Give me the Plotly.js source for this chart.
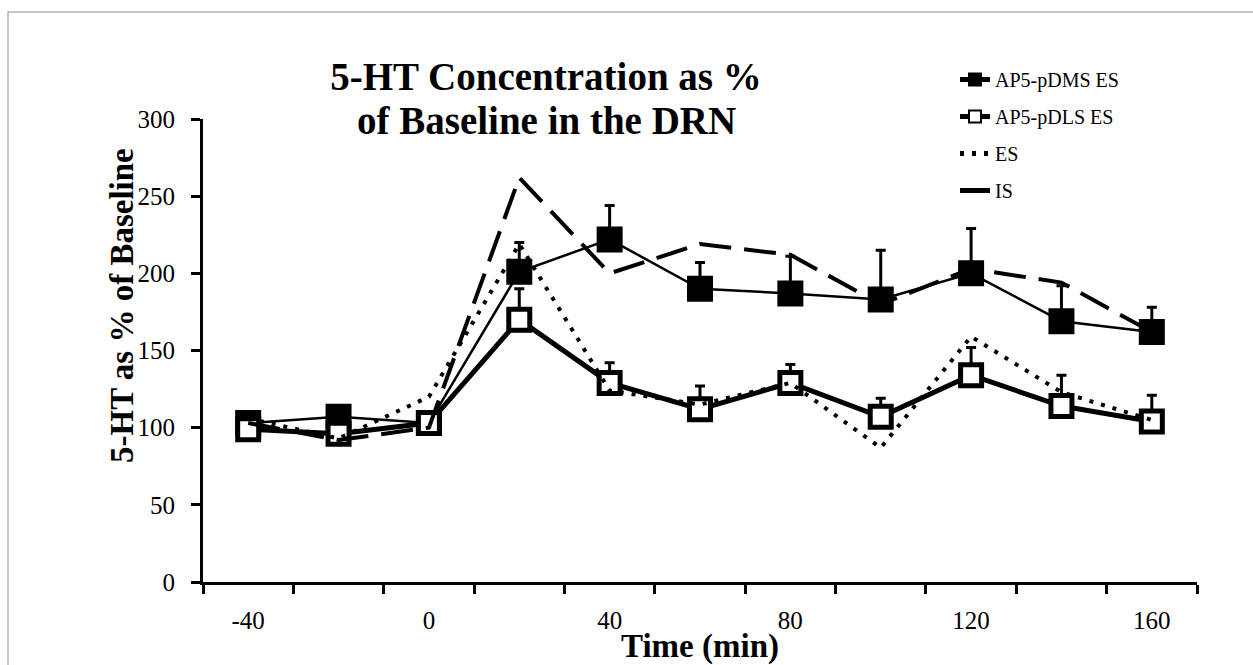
<!DOCTYPE html>
<html>
<head>
<meta charset="utf-8">
<script src="https://cdn.plot.ly/plotly-3.0.1.min.js"></script>
<style>
  html, body { margin: 0; padding: 0; background: #fff; }
  #chart { width: 1253px; height: 665px; }
</style>
</head>
<body>
<div id="chart"></div>
<script>
// Time points (min)
const timeMin = [-40, -20, 0, 20, 40, 60, 80, 100, 120, 140, 160];
const tickTimes = [-40, 0, 40, 80, 120, 160];
const tickLabels = ["-40", "0", "40", "80", "120", "160"];

// Texts
const titleLine1 = "5-HT Concentration as %";
const titleLine2 = "of Baseline in the DRN";
const yTitle = "5-HT as % of Baseline";
const xTitle = "Time (min)";

// 5-HT as % of baseline
const pdmsES = [103, 107, 103, 201, 222, 190, 187, 183, 200, 169, 162];
const pdmsErr = [3, 4, 3, 19, 22, 17, 24, 32, 29, 23, 16];
const pdlsES = [99, 96, 103, 170, 129, 112, 129, 107, 134, 114, 104];
const pdlsErr = [3, 4, 3, 20, 13, 15, 12, 12, 18, 20, 17];
const esOnly = [106, 93, 120, 219, 124, 115, 129, 87, 159, 123, 105];
const isOnly = [103, 92, 100, 262, 200, 219, 212, 180, 203, 194, 162];

const serif = "Liberation Serif";
const zeros = timeMin.map(() => 0);

const traces = [
  {
    x: timeMin, y: pdmsES, name: "AP5-pDMS ES", type: "scatter", mode: "lines+markers",
    legendgroup: "a",
    line: { color: "#000", width: 2.5 },
    marker: { symbol: "square", size: 24, color: "#000", line: { color: "#000", width: 2 } },
    error_y: { type: "data", symmetric: false, array: pdmsErr, arrayminus: zeros, color: "#000", thickness: 3, width: 5 },
    cliponaxis: false
  },
  {
    x: timeMin, y: pdlsES, name: "AP5-pDLS ES", type: "scatter", mode: "lines+markers",
    legendgroup: "b",
    line: { color: "#000", width: 5 },
    marker: { symbol: "square", size: 21, color: "#fff", line: { color: "#000", width: 5 } },
    error_y: { type: "data", symmetric: false, array: pdlsErr, arrayminus: zeros, color: "#000", thickness: 3, width: 5 },
    cliponaxis: false
  },
  {
    x: timeMin, y: esOnly, name: "ES", type: "scatter", mode: "lines",
    legendgroup: "c",
    line: { color: "#000", width: 4, dash: "4px,8px" },
    cliponaxis: false
  },
  {
    x: timeMin, y: isOnly, name: "IS", type: "scatter", mode: "lines",
    legendgroup: "d",
    line: { color: "#000", width: 4, dash: "32px,13px" },
    cliponaxis: false
  }
];

const L = 203, R = 1197, T = 119, B = 582;
const W = R - L, H = B - T;
const px2paperX = (px) => (px - L) / W;
const px2paperY = (py) => (B - py) / H;

const layout = {
  width: 1253, height: 665,
  margin: { l: L, r: 1253 - R, t: T, b: 665 - B, pad: 0 },
  paper_bgcolor: "#fff", plot_bgcolor: "#fff",
  font: { family: serif, color: "#000", size: 25 },
  showlegend: true,
  title: {
    text: "<b>" + titleLine1 + "</b>",
    font: { family: serif, size: 39, color: "#000" },
    xref: "paper", x: px2paperX(546), xanchor: "center",
    yref: "container", y: 1 - 76 / 665, yanchor: "middle"
  },
  annotations: [
    {
      text: "<b>" + titleLine2 + "</b>", showarrow: false,
      xref: "paper", yref: "paper", x: px2paperX(546), y: px2paperY(120),
      xanchor: "center", yanchor: "middle",
      font: { family: serif, size: 39, color: "#000" }
    },
    {
      text: "<b>" + yTitle + "</b>", showarrow: false, textangle: -90,
      xref: "paper", yref: "paper", x: px2paperX(122), y: px2paperY(306),
      xanchor: "center", yanchor: "middle",
      font: { family: serif, size: 33, color: "#000" }
    }
  ],
  xaxis: {
    range: [-50, 170],
    tickmode: "array", tickvals: tickTimes, ticktext: tickLabels,
    ticks: "", ticklabelstandoff: 14,
    minor: { tickmode: "linear", tick0: -50, dtick: 20, ticks: "outside", ticklen: 9, tickwidth: 3, tickcolor: "#000", showgrid: false },
    showline: true, linecolor: "#000", linewidth: 3,
    showgrid: false, zeroline: false,
    tickfont: { family: serif, size: 25, color: "#000" },
    title: { text: "<b>" + xTitle + "</b>", font: { family: serif, size: 33, color: "#000" }, standoff: 0 }
  },
  yaxis: {
    range: [0, 300],
    tickmode: "linear", tick0: 0, dtick: 50,
    ticks: "outside", ticklen: 9, tickwidth: 3, tickcolor: "#000",
    ticklabelstandoff: 11,
    showline: true, linecolor: "#000", linewidth: 3,
    showgrid: false, zeroline: false,
    tickfont: { family: serif, size: 25, color: "#000" }
  },
  legend: {
    x: px2paperX(955), y: px2paperY(60), xanchor: "left", yanchor: "top",
    font: { family: serif, size: 20, color: "#000" },
    bgcolor: "rgba(0,0,0,0)", borderwidth: 0,
    traceorder: "grouped", tracegroupgap: 8, itemsizing: "constant"
  },
  shapes: [
    {
      type: "rect", xref: "paper", yref: "paper", layer: "below",
      x0: px2paperX(8), x1: px2paperX(1262), y0: px2paperY(672), y1: px2paperY(12),
      line: { color: "#b4b4b4", width: 1.5 }, fillcolor: "rgba(0,0,0,0)"
    }
  ]
};

Plotly.newPlot("chart", traces, layout, { displayModeBar: false, staticPlot: true });
</script>
</body>
</html>
